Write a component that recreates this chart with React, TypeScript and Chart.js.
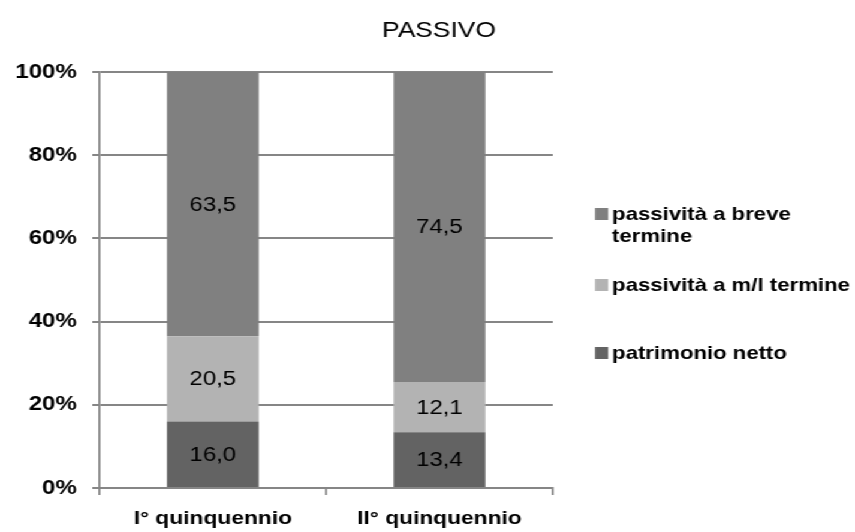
import { useEffect, useRef } from "react";
import { Chart, registerables } from "chart.js";

Chart.register(...registerables);

// Values
const chartTitle = "PASSIVO";
const categories = ["I° quinquennio", "II° quinquennio"];
const seriesNames = ["patrimonio netto", "passività a m/l termine", "passività a breve termine"];
const patrimonioNetto = [16.0, 13.4];
const passivitaMedioLungo = [20.5, 12.1];
const passivitaBreve = [63.5, 74.5];
const yTicks = [0, 20, 40, 60, 80, 100];
const seriesColors = ["#636363", "#b3b3b3", "#808080"];

// The chart is drawn on a narrower canvas and widened with a horizontal scale
const PAGE_W = 855;
const W = 713;
const H = 532;
const SX = PAGE_W / W;

const FONT = '"Liberation Sans", Arial, Helvetica, sans-serif';
const GRID = "#868686";

const fmt = (v: number) => v.toFixed(1).replace(".", ",");

const overlay = {
  id: "overlay",
  afterDatasetsDraw(chart: any) {
    const ctx: CanvasRenderingContext2D = chart.ctx;
    ctx.save();

    // value labels centred in each segment
    ctx.font = `20px ${FONT}`;
    ctx.fillStyle = "#000";
    ctx.textAlign = "center";
    ctx.textBaseline = "middle";
    chart.data.datasets.forEach((ds: any, i: number) => {
      const meta = chart.getDatasetMeta(i);
      meta.data.forEach((bar: any, j: number) => {
        const { x, y, base } = bar.getProps(["x", "y", "base"], true);
        ctx.fillText(fmt(ds.data[j]), x, (y + base) / 2 + 1);
      });
    });

    // title
    ctx.font = `22px ${FONT}`;
    ctx.fillText(chartTitle, 439 / SX, 31);

    // legend (top series first), long names wrapped to the free width
    const boxX = 595 / SX;
    const textX = 612 / SX;
    const maxW = W - textX - 2;
    const rowY = [214, 285, 353];
    const lineH = 22;
    ctx.font = `bold 18.5px ${FONT}`;
    ctx.textAlign = "left";
    const order = chart.data.datasets.map((_: any, i: number) => i).reverse();
    order.forEach((dsIndex: number, k: number) => {
      const ds = chart.data.datasets[dsIndex];
      const words = String(ds.label).split(" ");
      const lines: string[] = [];
      let cur = "";
      words.forEach((w) => {
        const test = cur ? cur + " " + w : w;
        if (cur && ctx.measureText(test).width > maxW) {
          lines.push(cur);
          cur = w;
        } else cur = test;
      });
      if (cur) lines.push(cur);
      const y0 = rowY[k];
      ctx.fillStyle = ds.backgroundColor;
      ctx.fillRect(boxX, y0 - 6, 11, 12);
      ctx.fillStyle = "#000";
      lines.forEach((ln, li) => ctx.fillText(ln, textX, y0 + li * lineH + 1));
    });

    ctx.restore();
  },
};

export default function App() {
  const ref = useRef<HTMLCanvasElement | null>(null);

  useEffect(() => {
    if (!ref.current) return;
    const seriesData = [patrimonioNetto, passivitaMedioLungo, passivitaBreve];
    const chart = new Chart(ref.current, {
      type: "bar",
      data: {
        labels: categories,
        datasets: seriesNames.map((name, i) => ({
          label: name,
          data: seriesData[i],
          backgroundColor: seriesColors[i],
          borderWidth: 0,
          categoryPercentage: 1,
          barPercentage: 0.405,
        })),
      },
      options: {
        animation: false,
        responsive: true,
        maintainAspectRatio: false,
        layout: { padding: { top: 72, right: W - 461, bottom: 0, left: 0 } },
        plugins: {
          legend: { display: false },
          title: { display: false },
          tooltip: { enabled: false },
        },
        scales: {
          x: {
            stacked: true,
            offset: true,
            grid: {
              display: true,
              offset: true,
              drawOnChartArea: false,
              drawTicks: true,
              tickLength: 7,
              color: GRID,
              lineWidth: 1.7,
            },
            border: { display: true, color: GRID, width: 2 },
            ticks: {
              color: "#000",
              font: { family: FONT, size: 19, weight: "bold" },
              padding: 12,
              maxRotation: 0,
            },
            afterFit: (s: any) => {
              s.height = 44;
            },
          },
          y: {
            stacked: true,
            min: 0,
            max: 100,
            afterBuildTicks: (s: any) => {
              s.ticks = yTicks.map((v) => ({ value: v }));
            },
            grid: {
              color: GRID,
              lineWidth: 2,
              tickLength: 6,
              drawTicks: true,
            },
            border: { display: true, color: GRID, width: 1.7 },
            ticks: {
              color: "#000",
              font: { family: FONT, size: 20, weight: "bold" },
              padding: 13,
              callback: (v: any) => `${v}%`,
            },
            afterFit: (s: any) => {
              s.width = 83;
            },
          },
        },
      },
      plugins: [overlay],
    });
    return () => chart.destroy();
  }, []);

  return (
    <div
      style={{
        position: "fixed",
        left: 0,
        top: 0,
        width: W,
        height: H,
        transform: `scaleX(${SX})`,
        transformOrigin: "0 0",
        background: "#fff",
      }}
    >
      <canvas ref={ref} />
    </div>
  );
}
